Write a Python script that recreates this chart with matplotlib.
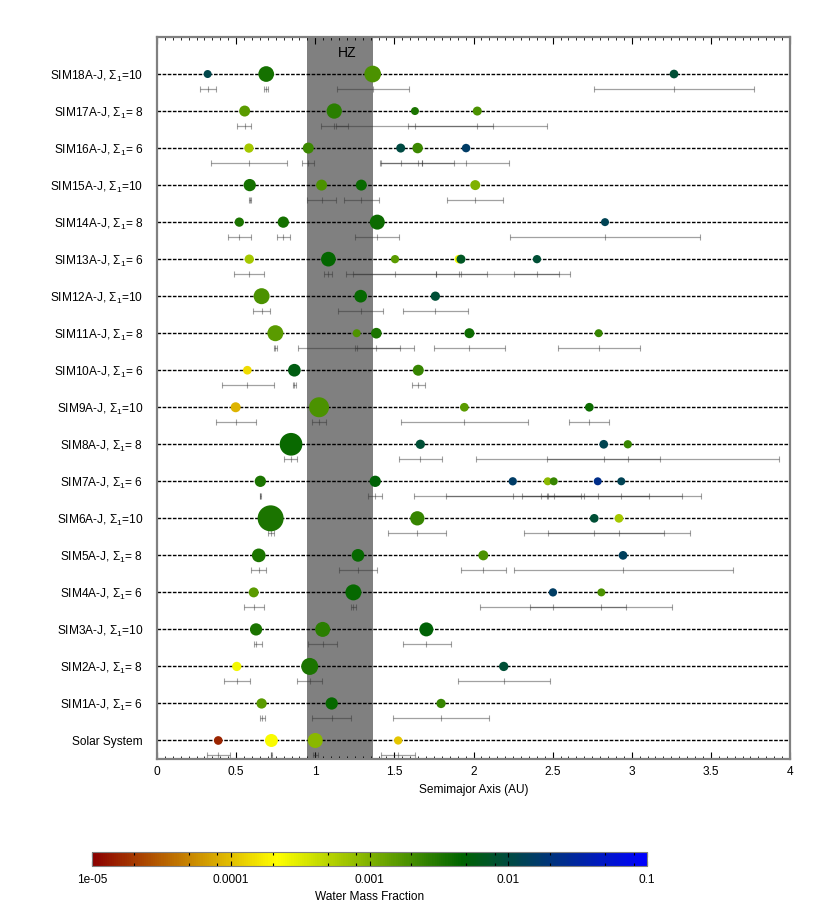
import matplotlib
matplotlib.use("Agg")
import matplotlib.pyplot as plt
import numpy as np
from matplotlib.colors import LinearSegmentedColormap, LogNorm
from matplotlib.ticker import FixedLocator, MultipleLocator, NullFormatter

plt.rcParams["font.family"] = ["Liberation Sans", "DejaVu Sans"]
plt.rcParams["mathtext.fontset"] = "custom"
plt.rcParams["mathtext.rm"] = "Liberation Sans"
plt.rcParams["mathtext.it"] = "Liberation Sans"

# row 0 = Solar System, row n = SIMnA-J
SYSTEMS = ["Solar System"] + [f"SIM{n}A-J" for n in range(1, 19)]
SIGMA1 = [None, 6, 8, 10, 6, 8, 10, 6, 8, 10, 6, 8, 10, 6, 8, 10, 6, 8, 10]

# semimajor axis (AU), per system
semimajor = [
    [0.387, 0.723, 1.0, 1.524],
    [0.661, 1.104, 1.795],
    [0.504, 0.965, 2.191],
    [0.626, 1.047, 1.702],
    [0.611, 1.241, 2.502, 2.808],
    [0.643, 1.27, 2.062, 2.945],
    [0.718, 1.645, 2.763, 2.919],
    [0.653, 1.379, 2.248, 2.469, 2.507, 2.785, 2.934],
    [0.847, 1.664, 2.823, 2.975],
    [0.497, 1.024, 1.942, 2.732],
    [0.571, 0.868, 1.651],
    [0.748, 1.262, 1.386, 1.974, 2.791],
    [0.661, 1.287, 1.759],
    [0.583, 1.083, 1.504, 1.907, 1.921, 2.401],
    [0.52, 0.798, 1.392, 2.831],
    [0.586, 1.04, 1.291, 2.011],
    [0.581, 0.956, 1.54, 1.647, 1.953],
    [0.554, 1.12, 1.63, 2.024],
    [0.32, 0.69, 1.363, 3.267],
]

# perihelion / aphelion range (AU)
peri = [
    [0.314, 0.718, 0.983, 1.414],
    [0.65, 0.981, 1.489],
    [0.421, 0.887, 1.902],
    [0.61, 0.956, 1.557],
    [0.552, 1.225, 2.041, 2.359],
    [0.596, 1.152, 1.923, 2.254],
    [0.70, 1.462, 2.321, 2.469],
    [0.648, 1.335, 1.824, 1.626, 2.309, 2.463, 2.428],
    [0.803, 1.531, 2.466, 2.018],
    [0.371, 0.981, 1.544, 2.606],
    [0.413, 0.857, 1.609],
    [0.74, 0.893, 1.25, 1.752, 2.536],
    [0.609, 1.146, 1.557],
    [0.489, 1.057, 1.24, 1.193, 1.76, 2.258],
    [0.447, 0.76, 1.253, 2.231],
    [0.58, 0.95, 1.184, 1.835],
    [0.341, 0.918, 1.407, 1.415, 1.673],
    [0.507, 1.038, 1.13, 1.584],
    [0.27, 0.674, 1.14, 2.76],
]
aphe = [
    [0.463, 0.728, 1.017, 1.632],
    [0.685, 1.228, 2.1],
    [0.59, 1.045, 2.486],
    [0.662, 1.139, 1.856],
    [0.674, 1.26, 2.966, 3.256],
    [0.691, 1.39, 2.203, 3.638],
    [0.74, 1.828, 3.204, 3.368],
    [0.658, 1.424, 2.677, 3.318, 2.70, 3.107, 3.44],
    [0.887, 1.799, 3.18, 3.933],
    [0.624, 1.066, 2.343, 2.858],
    [0.737, 0.878, 1.692],
    [0.757, 1.626, 1.536, 2.199, 3.05],
    [0.716, 1.43, 1.967],
    [0.678, 1.108, 1.76, 2.608, 2.087, 2.542],
    [0.596, 0.842, 1.531, 3.433],
    [0.593, 1.133, 1.401, 2.188],
    [0.823, 0.994, 1.673, 1.879, 2.226],
    [0.596, 1.205, 2.125, 2.466],
    [0.37, 0.703, 1.594, 3.774],
]

# planet mass (Earth masses)
mass = [
    [0.195, 0.651, 1.0, 0.169],
    [0.324, 0.551, 0.238],
    [0.238, 1.456, 0.238],
    [0.551, 1.0, 0.813],
    [0.296, 1.214, 0.169, 0.152],
    [0.762, 0.607, 0.296, 0.195],
    [5.208, 0.866, 0.195, 0.195],
    [0.428, 0.428, 0.169, 0.152, 0.152, 0.152, 0.152],
    [3.466, 0.238, 0.195, 0.169],
    [0.296, 2.370, 0.195, 0.195],
    [0.195, 0.607, 0.394],
    [1.214, 0.152, 0.363, 0.296, 0.152],
    [1.214, 0.607, 0.238],
    [0.238, 0.941, 0.169, 0.182, 0.216, 0.169],
    [0.238, 0.428, 1.0, 0.152],
    [0.551, 0.394, 0.394, 0.296],
    [0.238, 0.394, 0.216, 0.343, 0.182],
    [0.394, 1.061, 0.152, 0.216],
    [0.152, 1.147, 1.380, 0.195],
]

# log10 water mass fraction
log_wmf = [
    [-4.8, -3.64, -3.05, -3.96],
    [-2.8, -2.36, -2.62],
    [-3.6, -2.47, -2.05],
    [-2.47, -2.56, -2.3],
    [-2.8, -2.36, -1.82, -2.72],
    [-2.47, -2.36, -2.72, -1.85],
    [-2.47, -2.62, -2.05, -3.2],
    [-2.47, -2.3, -1.8, -3.05, -2.62, -1.62, -1.9],
    [-2.38, -2.05, -1.92, -2.62],
    [-4.05, -2.72, -2.8, -2.4],
    [-3.85, -2.25, -2.62],
    [-2.8, -2.75, -2.47, -2.4, -2.62],
    [-2.72, -2.36, -2.05],
    [-3.2, -2.35, -2.8, -3.6, -2.15, -2.05],
    [-2.47, -2.45, -2.4, -1.9],
    [-2.45, -2.72, -2.38, -3.0],
    [-3.2, -2.65, -2.0, -2.65, -1.8],
    [-2.8, -2.56, -2.47, -2.72],
    [-1.95, -2.45, -2.72, -2.05],
]

X_TICKS = [0, 0.5, 1, 1.5, 2, 2.5, 3, 3.5, 4]
X_TICK_LABELS = ["0", "0.5", "1", "1.5", "2", "2.5", "3", "3.5", "4"]
HZ_INNER, HZ_OUTER = 0.95, 1.367

W, H = 830, 905
fig = plt.figure(figsize=(W / 100, H / 100), dpi=100)
ax = fig.add_axes([157 / W, 1 - 759 / H, (790 - 157) / W, (759 - 37) / H])

cmap = LinearSegmentedColormap.from_list("wmf", ["#8b0000", "#ffff00", "#006400", "#0000ff"])
norm = LogNorm(1e-5, 0.1)

ax.axvspan(HZ_INNER, HZ_OUTER, color="#808080", lw=0, zorder=0)
ax.text(1.2, 18.57, "HZ", ha="center", va="center", fontsize=10)

for row in range(len(SYSTEMS)):
    ax.axhline(row, color="black", lw=1.0, ls=(0, (2.6, 1.1)), zorder=1)

    a = np.asarray(semimajor[row])
    lo = np.asarray(peri[row])
    hi = np.asarray(aphe[row])
    ybar = np.full_like(a, row - 0.4)
    ax.errorbar(a, ybar, xerr=[a - lo, hi - a], fmt="|", ms=5, mew=0.8,
                color="#303030", ecolor="#303030", elinewidth=0.9, capsize=2.4,
                capthick=0.8, alpha=0.45, zorder=2)

    diam_px = 15.0 * np.cbrt(np.asarray(mass[row]))
    sc = ax.scatter(a, np.full_like(a, row), s=(diam_px * 0.72) ** 2,
                    c=10.0 ** np.asarray(log_wmf[row]), cmap=cmap, norm=norm,
                    edgecolors="none", zorder=3)

labels = []
for name, sig in zip(SYSTEMS, SIGMA1):
    labels.append(name if sig is None else f"{name}, Σ$_1$={sig:>2}")

ax.set_xlim(0, 4)
ax.set_ylim(-0.5, 19.0)
ax.set_yticks(range(len(SYSTEMS)))
ax.set_yticklabels(labels, fontsize=8.6)
ax.tick_params(axis="y", length=0, pad=10)

ax.set_xticks(X_TICKS)
ax.set_xticklabels(X_TICK_LABELS, fontsize=8.6)
ax.xaxis.set_minor_locator(MultipleLocator(0.05))
ax.tick_params(axis="x", which="major", direction="in", length=5, width=0.8, top=True, pad=5)
ax.tick_params(axis="x", which="minor", direction="in", length=2.5, width=0.6, top=True)
ax.set_xlabel("Semimajor Axis (AU)", fontsize=8.6, labelpad=4)
for spine in ax.spines.values():
    spine.set_color("#808080")
    spine.set_linewidth(1.6)

cax = fig.add_axes([92 / W, 1 - 866 / H, 555 / W, 14 / H])
cb = fig.colorbar(sc, cax=cax, orientation="horizontal")
cb.set_ticks([1e-5, 1e-4, 1e-3, 1e-2, 1e-1])
cb.set_ticklabels(["1e-05", "0.0001", "0.001", "0.01", "0.1"])
minor = [m * 10.0 ** e for e in range(-5, -1) for m in (2, 5, 8)]
cax.xaxis.set_minor_locator(FixedLocator(minor))
cax.xaxis.set_minor_formatter(NullFormatter())
cax.tick_params(which="both", direction="in", top=True, labelsize=8.6, width=0.8)
cax.tick_params(which="major", length=3.5, pad=6)
cax.tick_params(which="minor", length=2.5)
cb.outline.set_edgecolor("#808080")
cb.set_label("Water Mass Fraction", fontsize=8.6, labelpad=3)

fig.savefig("out.png", dpi=100)
